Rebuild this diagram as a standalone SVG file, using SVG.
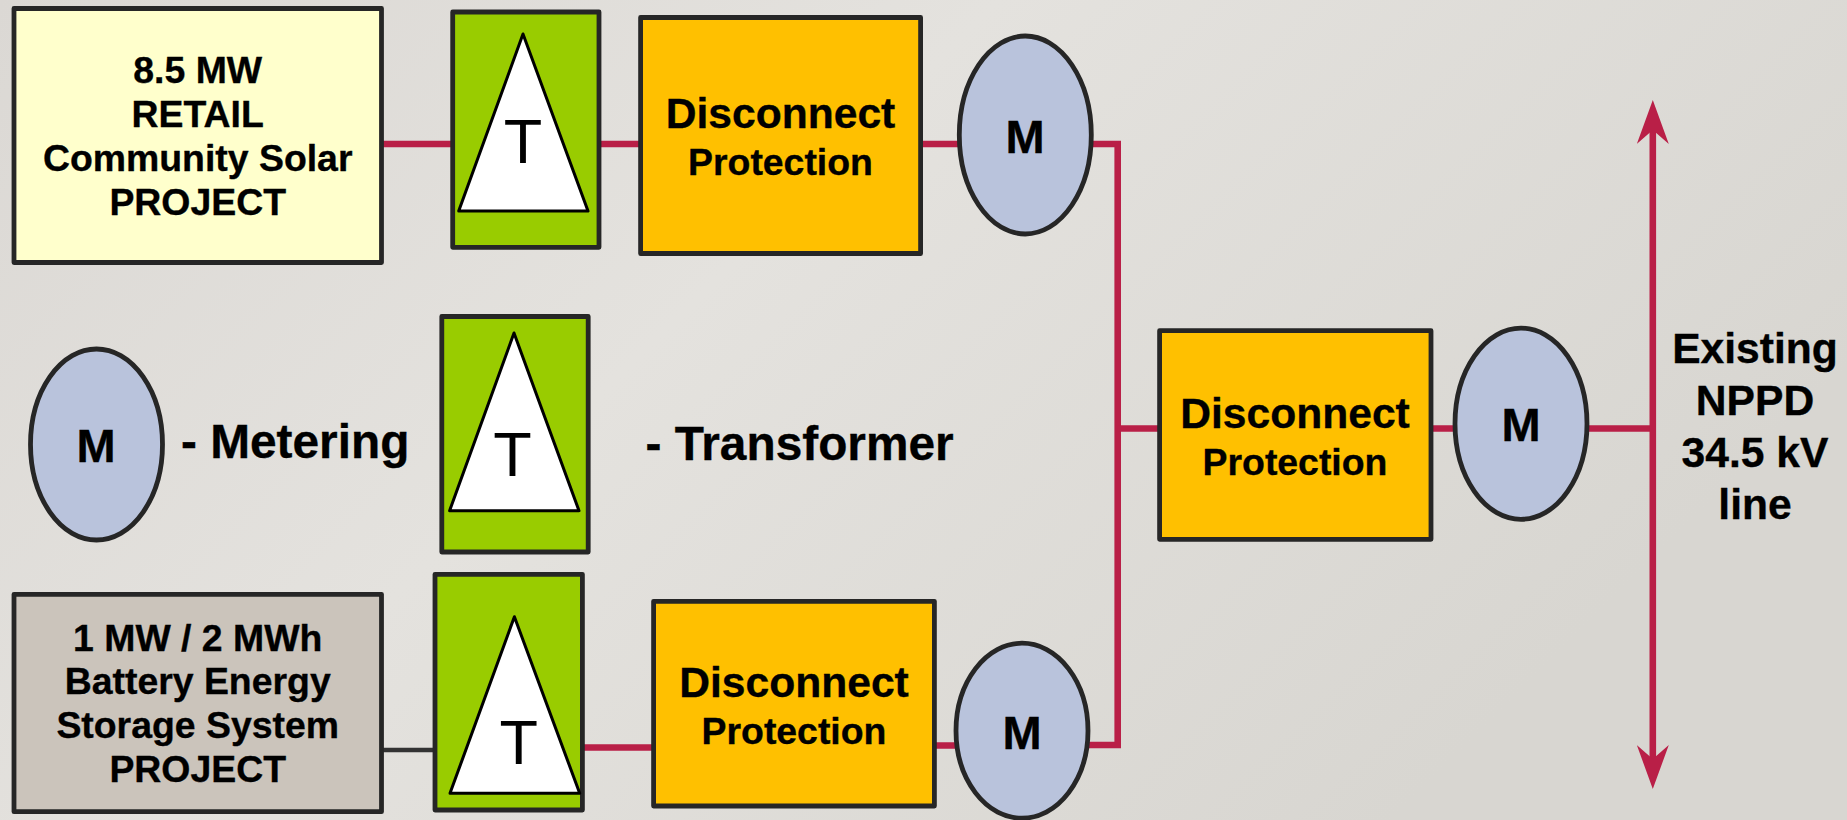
<svg xmlns="http://www.w3.org/2000/svg" width="1847" height="820" viewBox="0 0 1847 820">
<style>
text{font-family:"Liberation Sans",Arial,sans-serif;fill:#000;text-anchor:middle}
.s{font-size:37.4px;font-weight:700;stroke:#000;stroke-width:.35}
.d{font-size:42.6px;font-weight:700;stroke:#000;stroke-width:.35}
.m{font-size:47px;font-weight:700;stroke:#000;stroke-width:.35}
.t{font-size:63px}
.l{font-size:47.8px;font-weight:700;text-anchor:start;stroke:#000;stroke-width:.35}
.box{stroke:#262626;stroke-width:4.8;stroke-linejoin:round}
.tri{fill:#fff;stroke:#000;stroke-width:3;stroke-linejoin:round}
.meter{fill:#B9C3DC;stroke:#262626;stroke-width:4.8}
.red{stroke:#B91F47;stroke-width:6.6;fill:none}
.green{fill:#99CC00}
.orange{fill:#FFC000}
</style>
<defs>
<linearGradient id="bg" x1="0" y1="0" x2="1" y2="0.45">
<stop offset="0" stop-color="#DBD8D4"/>
<stop offset="0.45" stop-color="#E4E2DE"/>
<stop offset="1" stop-color="#D8D6D1"/>
</linearGradient>
<marker id="arr" viewBox="0 0 44 32" refX="14" refY="16" markerWidth="44" markerHeight="32" markerUnits="userSpaceOnUse" orient="auto-start-reverse"><path d="M44 16L0 0L14 16L0 32Z" fill="#B91F47"/></marker>
</defs>
<rect width="1847" height="820" fill="url(#bg)"/>
<g id="connectors">
<path class="red" d="M382 144H453M599 144H641M920 144H1117.7V745H1088"/>
<path class="red" d="M584 747.5H654M934 745.5H957"/>
<path class="red" d="M1117.7 428.5H1160M1431 428.5H1455M1587 428.5H1652"/>
<path d="M382 750H436" stroke="#333" stroke-width="4.5" fill="none"/>
<path id="line345" class="red" d="M1652.8 130V759" marker-start="url(#arr)" marker-end="url(#arr)"/>
</g>
<g id="solar"><rect class="box" x="14" y="8.5" width="367.5" height="254" fill="#FFFFCC"/>
<text class="s" x="197.7" y="82.7">8.5 MW</text><text class="s" x="197.7" y="126.7">RETAIL</text><text class="s" x="197.7" y="170.7">Community Solar</text><text class="s" x="197.7" y="215">PROJECT</text></g>
<g id="transformer1"><rect class="box green" x="452.7" y="12" width="146.3" height="235.3"/><path class="tri" d="M523 34L588 211H458.7Z"/><text class="t" x="523" y="163">T</text></g>
<g id="disconnect1"><rect class="box orange" x="640.6" y="17.5" width="280" height="236"/><text class="d" x="780.5" y="128">Disconnect</text><text class="s" x="780.5" y="174.7">Protection</text></g>
<g id="meter1"><ellipse class="meter" cx="1025.3" cy="135" rx="66" ry="99"/><text class="m" x="1025" y="152.7">M</text></g>
<g id="legend-meter"><ellipse class="meter" cx="96.5" cy="444.5" rx="66" ry="95.5"/><text class="m" x="96" y="461.7">M</text></g>
<text id="legend-meter-label" class="l" x="181" y="458">- Metering</text>
<g id="legend-transformer"><rect class="box green" x="441.8" y="316.5" width="146.4" height="235.5"/><path class="tri" d="M514 333L579 510.7H449.6Z"/><text class="t" x="512.5" y="476">T</text></g>
<text id="legend-transformer-label" class="l" x="645.5" y="460">- Transformer</text>
<g id="disconnect3"><rect class="box orange" x="1159.6" y="330.7" width="271.4" height="208.6"/><text class="d" x="1295" y="428">Disconnect</text><text class="s" x="1295" y="474.7">Protection</text></g>
<g id="meter3"><ellipse class="meter" cx="1521" cy="423.7" rx="66" ry="95.6"/><text class="m" x="1521" y="440.7">M</text></g>
<g id="line-label"><text class="d" x="1755" y="363.3">Existing</text><text class="d" x="1755" y="415">NPPD</text><text class="d" x="1755" y="467.3">34.5 kV</text><text class="d" x="1755" y="519.3">line</text></g>
<g id="battery"><rect class="box" x="14" y="594.3" width="367.5" height="217.4" fill="#CBC4BB"/>
<text class="s" x="197.7" y="650.7">1 MW / 2 MWh</text><text class="s" x="197.7" y="694.3">Battery Energy</text><text class="s" x="197.7" y="738.3">Storage System</text><text class="s" x="197.7" y="782.3">PROJECT</text></g>
<g id="transformer2"><rect class="box green" x="435" y="574.3" width="147.4" height="235.7"/><path class="tri" d="M514.4 616.7L579.7 793.3H450Z"/><text class="t" x="518.8" y="764.3">T</text></g>
<g id="disconnect2"><rect class="box orange" x="653.6" y="601.3" width="280.8" height="204.7"/><text class="d" x="794" y="696.7">Disconnect</text><text class="s" x="794" y="744">Protection</text></g>
<g id="meter2"><ellipse class="meter" cx="1022" cy="730.7" rx="66" ry="87.5"/><text class="m" x="1022" y="749">M</text></g>
</svg>
